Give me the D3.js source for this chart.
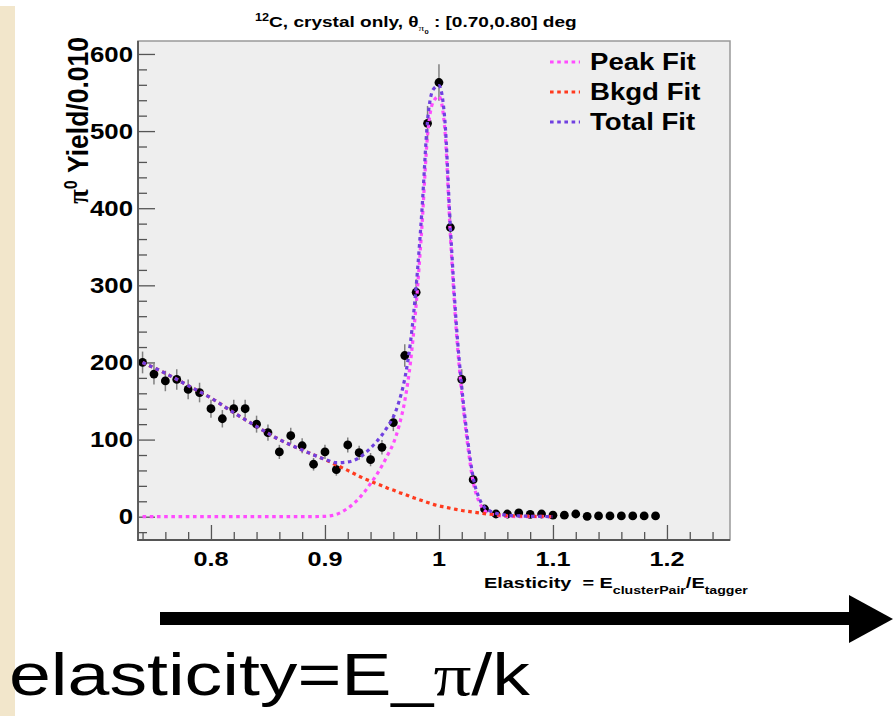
<!DOCTYPE html>
<html><head><meta charset="utf-8">
<script src="https://cdn.jsdelivr.net/npm/d3@7"></script>
<style>body{margin:0;background:#fff;} svg{display:block;}</style>
</head><body><svg id="c" width="893" height="716"></svg>
<script>
// ---------- data ----------
const binCenters = [0.74,0.75,0.76,0.77,0.78,0.79,0.80,0.81,0.82,0.83,0.84,0.85,0.86,0.87,0.88,0.89,0.90,0.91,0.92,0.93,0.94,0.95,0.96,0.97,0.98,0.99,1.00,1.01,1.02,1.03,1.04,1.05,1.06,1.07,1.08,1.09,1.10,1.11,1.12,1.13,1.14,1.15,1.16,1.17,1.18,1.19];
const yields = [200,185,176,178,165,161,140,127,140,140,120,109,84,105,92,68,84,61,93,83,74,90,122,209,291,510,563,375,178,48,10,3.5,3.5,5,3,3.5,2,2,3.5,0.5,1,1,1,1,1,1];
const yieldErrors = [14.1,13.6,13.3,13.3,12.8,12.7,11.8,11.3,11.8,11.8,11,10.4,9.2,10.2,9.6,8.2,9.2,7.8,9.6,9.1,8.6,9.5,11,14.5,17,22.6,23.7,19.4,13.3,6.9,3.2,1.9,1.9,2.2,1.7,1.9,1.4,1.4,1.9,0.7,1,1,1,1,1,1];

const fitX = [0.74,0.76,0.78,0.80,0.82,0.84,0.86,0.88,0.90,0.91,0.92,0.93,0.94,0.95,0.955,0.96,0.965,0.97,0.975,0.98,0.985,0.99,0.995,1.0,1.005,1.01,1.015,1.02,1.025,1.03,1.035,1.04,1.045,1.05,1.06,1.08,1.10];
const peakFit = [0,0,0,0,0,0,0,0,0.5,3,11,24,43,66,80,95,118,150,200,275,375,495,538,545,505,365,245,160,95,45,20,8,4,2,0.5,0,0];
const bkgdFit = [200,186,170,154,135,117,100,86.5,74,67,60,52.5,46,40,37,34.5,31.5,29,26,23.5,21,18.5,16,14,12.5,11,9.5,8,7,6,5,4,3.2,2.5,1.5,0.6,0.2];
const totalFit = [200,186,170,154,135,117,100,86.5,74.5,70,71,76.5,89,106,117,129.5,149.5,179,226,298.5,396,513.5,554,559,517.5,376,254.5,168,102,51,25,12,7.2,4.5,2,0.6,0.2];

const xTicks = [0.8,0.9,1.0,1.1,1.2];
const xTickLabels = ["0.8","0.9","1","1.1","1.2"];
const yTicks = [0,100,200,300,400,500,600];
const yTickLabels = ["0","100","200","300","400","500","600"];
const legendLabels = ["Peak Fit","Bkgd Fit","Total Fit"];
const fitColors = ["#ff4cff","#ff3a1e","#7040e0"];

// ---------- layout ----------
const svg = d3.select("#c");
const W = 893, H = 716;
const SX = 1.2;
const SANS = "'Liberation Sans', Arial, Helvetica, sans-serif";
const SERIF = "'Liberation Serif', 'DejaVu Serif', serif";
const frame = {l:138, t:41, r:730, b:540};

svg.append("rect").attr("x",0).attr("y",0).attr("width",W).attr("height",H).attr("fill","#ffffff");
svg.append("rect").attr("x",0).attr("y",6).attr("width",15).attr("height",H-6).attr("fill","#f2e6cb");

const x = d3.scaleLinear().domain([0.736,1.2553]).range([frame.l,frame.r]);
const y = d3.scaleLinear().domain([-30.2,616.8]).range([frame.b,frame.t]);

svg.append("rect").attr("x",frame.l).attr("y",frame.t)
  .attr("width",frame.r-frame.l).attr("height",frame.b-frame.t).attr("fill","#eeeeee");

function fitText(sel, left, baseline, width){
  const w = sel.node().getComputedTextLength();
  sel.attr("text-anchor","start").attr("transform",`translate(${left},${baseline}) scale(${width/w},1)`);
}

// ---------- axes ----------
const yMinor = d3.range(-20, 601, 20).filter(v => v % 100 !== 0);
const xMinor = d3.range(0.74, 1.2553, 0.02).filter(v => Math.abs(v*10 - Math.round(v*10)) > 1e-6);

const axG = svg.append("g");
const yAxisMaj = d3.axisLeft(y).tickValues(yTicks).tickSize(-17).tickFormat("");
const yAxisMin = d3.axisLeft(y).tickValues(yMinor).tickSize(-9).tickFormat("");
const xAxisMaj = d3.axisBottom(x).tickValues(xTicks).tickSize(-15).tickFormat("");
const xAxisMin = d3.axisBottom(x).tickValues(xMinor).tickSize(-8).tickFormat("");
[[yAxisMaj,`translate(${frame.l},0)`],[yAxisMin,`translate(${frame.l},0)`],
 [xAxisMaj,`translate(0,${frame.b})`],[xAxisMin,`translate(0,${frame.b})`]].forEach(([a,t])=>{
  const g = axG.append("g").attr("transform",t).call(a);
  g.select(".domain").remove();
  g.selectAll("line").attr("stroke","#555").attr("stroke-width",1.3);
});

// ---------- data points ----------
const pts = svg.append("g");
pts.selectAll("line.err").data(binCenters).join("line")
  .attr("x1",(d)=>x(d)).attr("x2",(d)=>x(d))
  .attr("y1",(d,i)=>y(yields[i]-yieldErrors[i]))
  .attr("y2",(d,i)=>y(yields[i]+yieldErrors[i]))
  .attr("stroke","#808080").attr("stroke-width",1.5);
pts.selectAll("circle").data(binCenters).join("circle")
  .attr("cx",(d)=>x(d)).attr("cy",(d,i)=>y(yields[i])).attr("r",4.4).attr("fill","#000");

// ---------- fits ----------
const DASH = "3.6,3.6";
[peakFit,bkgdFit,totalFit].forEach((arr,k)=>{
  const line = d3.line().x((d,i)=>x(fitX[i])).y(d=>y(d)).curve(d3.curveMonotoneX);
  svg.append("path").attr("d",line(arr)).attr("fill","none")
    .attr("stroke",fitColors[k]).attr("stroke-width",3.2).attr("stroke-dasharray",DASH);
});

// ---------- frame ----------
svg.append("rect").attr("x",frame.l).attr("y",frame.t)
  .attr("width",frame.r-frame.l).attr("height",frame.b-frame.t)
  .attr("fill","none").attr("stroke","#999").attr("stroke-width",1.5);
svg.append("path").attr("d",`M${frame.l},${frame.t}V${frame.b}H${frame.r}`)
  .attr("fill","none").attr("stroke","#555").attr("stroke-width",1.8);

// ---------- tick labels ----------
yTicks.forEach((v,i)=>{
  svg.append("text").attr("transform",`translate(133,${y(v)}) scale(${SX},1)`)
    .attr("text-anchor","end").attr("dy","0.36em")
    .attr("font-family",SANS).attr("font-weight","bold").attr("font-size",21.5)
    .attr("fill","#000").text(yTickLabels[i]);
});
xTicks.forEach((v,i)=>{
  svg.append("text").attr("transform",`translate(${x(v)},566) scale(${SX},1)`)
    .attr("text-anchor","middle")
    .attr("font-family",SANS).attr("font-weight","bold").attr("font-size",21)
    .attr("fill","#000").text(xTickLabels[i]);
});

// ---------- axis titles ----------
const yt = svg.append("text").attr("transform",`translate(88,37) scale(1.1,1) rotate(-90)`)
  .attr("text-anchor","end").attr("font-family",SANS).attr("font-weight","bold").attr("font-size",26.5);
yt.append("tspan").attr("font-family",SERIF).text("π");
yt.append("tspan").attr("font-size",16).attr("dy",-10).text("0");
yt.append("tspan").attr("dy",10).text("\u00a0Yield/0.010");

const xt = svg.append("text").attr("font-family",SANS).attr("font-weight","bold").attr("font-size",15.5);
xt.append("tspan").text("Elasticity\u00a0\u00a0=\u00a0E");
xt.append("tspan").attr("font-size",11).attr("dy",6).text("clusterPair");
xt.append("tspan").attr("dy",-6).text("/E");
xt.append("tspan").attr("font-size",11).attr("dy",6).text("tagger");
fitText(xt, 484, 588, 264);

// ---------- title ----------
const tt = svg.append("text").attr("font-family",SANS).attr("font-weight","bold").attr("font-size",15).attr("fill","#000");
tt.append("tspan").attr("font-size",10).attr("dy",-6).text("12");
tt.append("tspan").attr("dy",6).text("C, crystal only,\u00a0θ");
tt.append("tspan").attr("font-size",9).attr("font-weight","normal").attr("font-family",SERIF).attr("dy",4).text("π");
tt.append("tspan").attr("font-size",6).attr("dy",3).text("0");
tt.append("tspan").attr("dy",-7).text("\u00a0: [0.70,0.80] deg");
fitText(tt, 255, 27, 322);

// ---------- legend ----------
legendLabels.forEach((lab,i)=>{
  const cy = 62 + 30*i;
  svg.append("line").attr("x1",550).attr("x2",580).attr("y1",cy).attr("y2",cy)
    .attr("stroke",fitColors[i]).attr("stroke-width",3.2).attr("stroke-dasharray",DASH);
  svg.append("text").attr("transform",`translate(590,${cy+8.3}) scale(${SX},1)`)
    .attr("font-family",SANS).attr("font-weight","bold").attr("font-size",23)
    .attr("fill","#000").text(lab);
});

// ---------- arrow and annotation ----------
svg.append("rect").attr("x",160).attr("y",612).attr("width",692).attr("height",13).attr("fill","#000");
svg.append("path").attr("d","M849,595 L893,619 L849,643 Z").attr("fill","#000");

const bt = svg.append("text").attr("font-family",SANS).attr("font-size",59).attr("fill","#000");
bt.append("tspan").text("elasticity=E_");
bt.append("tspan").attr("font-family",SERIF).text("π");
bt.append("tspan").text("/k");
fitText(bt, 9, 695, 521);
</script>
</body></html>
